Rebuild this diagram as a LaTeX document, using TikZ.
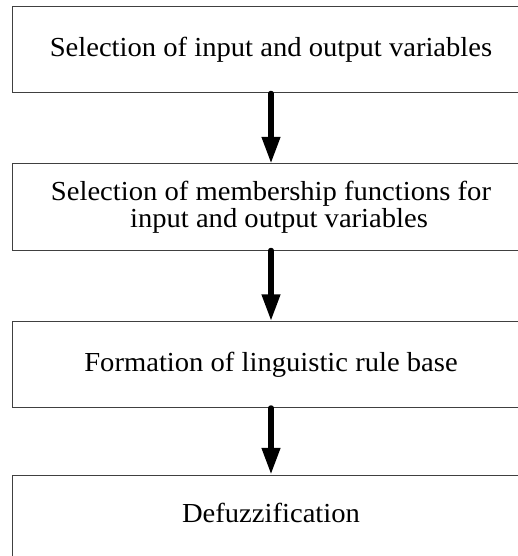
\documentclass[tikz,border=0pt]{standalone}
\usepackage{fontspec}
\setmainfont{Liberation Serif}
\usetikzlibrary{arrows.meta}
\newcommand{\widetxt}[1]{\scalebox{1.04}[1]{#1}}
\begin{document}
\begin{tikzpicture}[x=1pt,y=-1pt,
  stepbox/.style={draw=black!75, line width=1pt, rectangle, minimum width=518pt, minimum height=86pt, inner sep=0pt,
    font=\fontsize{27.5}{26.7}\selectfont, align=center},
  lbl/.style={inner sep=0pt, font=\fontsize{27.5}{26.7}\selectfont, align=center},
  flow/.style={line width=5.5pt, line cap=round, -{Triangle[length=26.7pt,width=17.6pt]}}]
\useasboundingbox (0,0) rectangle (518,556);
\clip (0,0) rectangle (518,556);
\node[stepbox] (b1) at (271,50) {\widetxt{Selection of input and output variables}};
\node[stepbox] (b2) at (271,207) {\widetxt{Selection of membership functions for}\\\hspace*{16pt}\widetxt{input and output variables}};
\node[stepbox] (b3) at (271,364.5) {\widetxt{Formation of linguistic rule base}};
\node[stepbox] (b4) at (271,518) {};
\node[lbl] (t4) at (271,513) {\widetxt{Defuzzification}};
\draw[flow] (b1.south -| 271,0) -- (b2.north -| 271,0);
\draw[flow] (b2.south -| 271,0) -- (b3.north -| 271,0);
\draw[flow] (b3.south -| 271,0) -- (b4.north -| 271,0);
\end{tikzpicture}
\end{document}
